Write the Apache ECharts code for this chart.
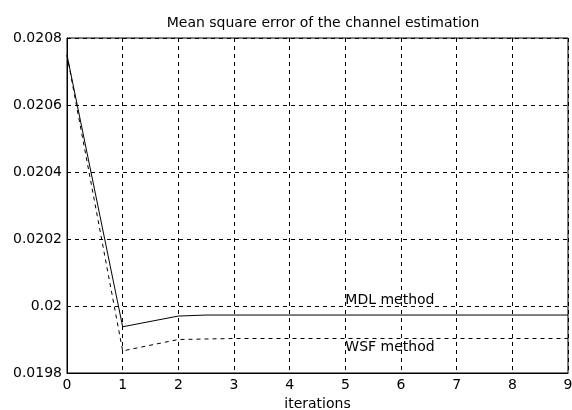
<!DOCTYPE html>
<html lang="en">
<head>
    <meta charset="utf-8">
    <title>Mean square error</title>
    <script type="text/javascript" src="https://cdn.jsdelivr.net/npm/echarts@6/dist/echarts.min.js"></script>
</head>
<body style="margin:0">
    <div id="myEcharts" style="width: 572px; height: 410px;"></div>
</body>
<script type="text/javascript">
    // values
    let mdlData = [[0, 0.020749], [1, 0.019938], [2, 0.01997], [2.5, 0.019973], [9, 0.019973]];
    let wsfData = [[0, 0.020749], [1, 0.019866], [2, 0.0199], [3, 0.019903], [9, 0.019903]];
    let labels = [
        { text: 'MDL method', x: 5, y: 0.020018 },
        { text: 'WSF method', x: 5, y: 0.019878 }
    ];

    let font = '"DejaVu Sans", sans-serif';
    let myChart = echarts.init(document.getElementById('myEcharts'));
    let option = {
        backgroundColor: '#fff',
        animation: false,
        title: {
            text: 'Mean square error of the channel estimation',
            left: 318, top: 11, textAlign: 'center',
            textStyle: { fontSize: 14, fontWeight: 'normal', color: '#000', fontFamily: font }
        },
        grid: {
            left: 67, right: 4, top: 38, bottom: 37, outerBoundsMode: 'none',
            show: true, borderColor: '#000', borderWidth: 1
        },
        xAxis: {
            type: 'value', min: 0, max: 9, interval: 1,
            name: 'iterations', nameLocation: 'middle', nameGap: 24,
            nameTextStyle: { fontSize: 14, color: '#000', fontFamily: font },
            axisLine: { lineStyle: { color: '#000' } },
            axisTick: { show: false },
            axisLabel: { fontSize: 14, color: '#000', fontFamily: font, margin: 5 },
            splitLine: { lineStyle: { color: '#000', type: [4, 4] } }
        },
        yAxis: {
            type: 'value', min: 0.0198, max: 0.0208, interval: 0.0002,
            axisLine: { show: true, lineStyle: { color: '#000' } },
            axisTick: { show: false },
            axisLabel: {
                fontSize: 14, color: '#000', fontFamily: font, margin: 5,
                formatter: v => String(+v.toFixed(4))
            },
            splitLine: { lineStyle: { color: '#000', type: [4, 4] } }
        },
        series: [
            { name: 'MDL', type: 'line', data: mdlData, symbol: 'none',
              lineStyle: { color: '#000', width: 1 } },
            { name: 'WSF', type: 'line', data: wsfData, symbol: 'none',
              lineStyle: { color: '#000', width: 1, type: [4, 4] } }
        ]
    };
    myChart.setOption(option);

    let texts = labels.map(function (l) {
        let p = myChart.convertToPixel({ gridIndex: 0 }, [l.x, l.y]);
        return {
            type: 'text', x: p[0], y: p[1],
            style: { text: l.text, fill: '#000', fontSize: 14, fontFamily: font, verticalAlign: 'middle' }
        };
    });
    myChart.setOption({ graphic: texts });
</script>
</html>
